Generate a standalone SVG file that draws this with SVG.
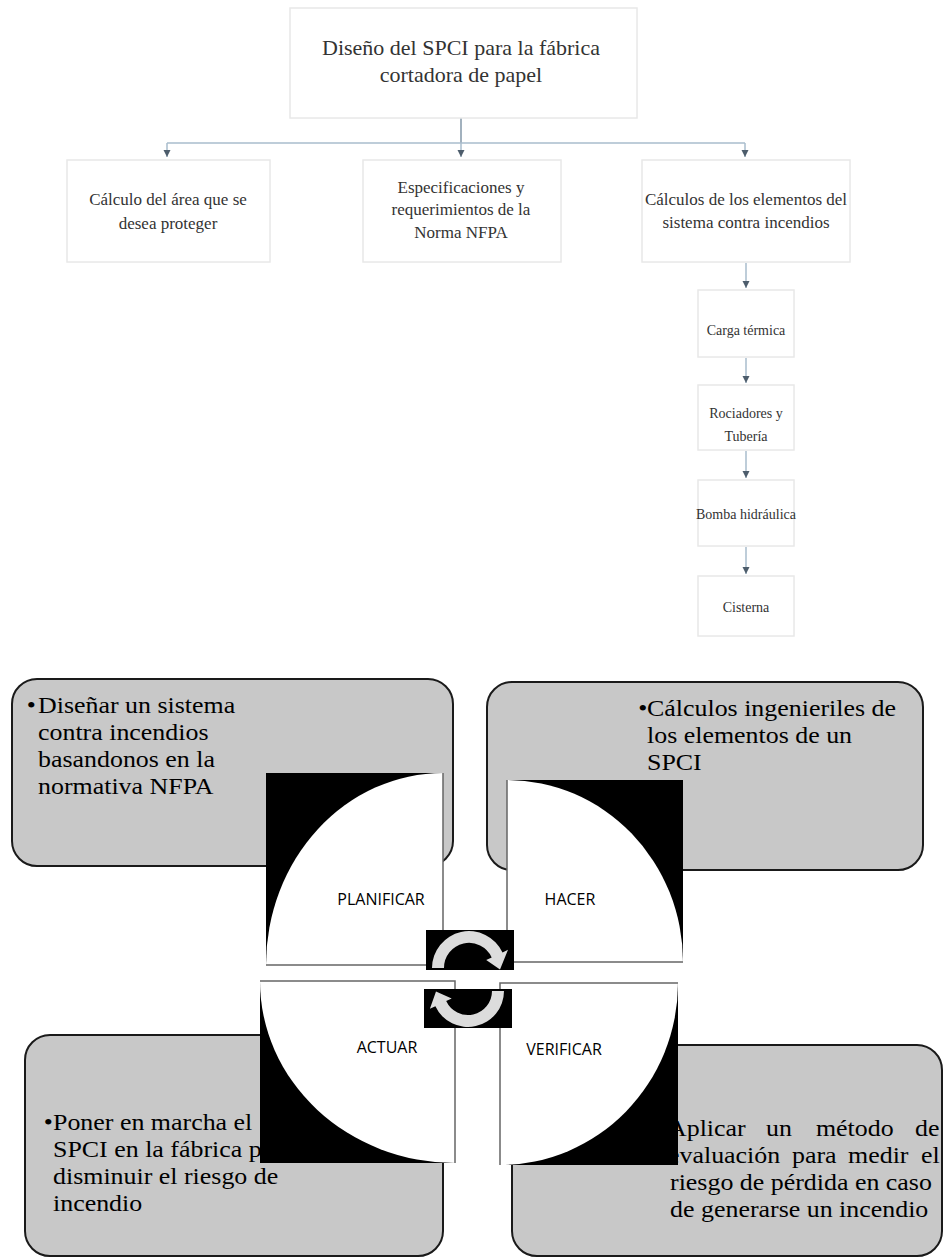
<svg xmlns="http://www.w3.org/2000/svg" width="945" height="1259" viewBox="0 0 945 1259">
<defs>
<marker id="ah" markerWidth="8" markerHeight="8" refX="7" refY="4" orient="auto" markerUnits="userSpaceOnUse">
<path d="M0,0.5 L7,4 L0,7.5 z" fill="#4d5d6c"/>
</marker>
<style>
.box{fill:#ffffff;stroke:#e8e8e8;stroke-width:1.5}
.t{font-family:"Liberation Serif",serif;fill:#333333;text-anchor:middle}
.conn{stroke:#a9bdcc;stroke-width:1.5;fill:none}
.rb{fill:#c8c8c8;stroke:#1a1a1a;stroke-width:2}
.bt{font-family:"Liberation Serif",serif;font-size:24px;fill:#000000}
.bg{fill:#000000}
.q{fill:#ffffff}
.qe{fill:none;stroke:#666666;stroke-width:1.5}
.ql{font-family:"Open Sans",sans-serif;font-size:16px;fill:#000000;text-anchor:middle}
.cyc{fill:#dcdcdc}
</style>
</defs>
<rect width="945" height="1259" fill="#ffffff"/>

<g id="connectors">
<path class="conn" d="M461,118 V143" style="stroke:#8397a9"/>
<path class="conn" d="M167,143 H745"/>
<path class="conn" d="M167,143 V157" marker-end="url(#ah)"/>
<path class="conn" d="M461,143 V157" marker-end="url(#ah)"/>
<path class="conn" d="M745,143 V157" marker-end="url(#ah)"/>
<path class="conn" d="M746,263 V288" marker-end="url(#ah)"/>
<path class="conn" d="M746,358 V383" marker-end="url(#ah)"/>
<path class="conn" d="M746,451 V478" marker-end="url(#ah)"/>
<path class="conn" d="M746,547 V574" marker-end="url(#ah)"/>
</g>

<g id="title">
<rect class="box" x="290" y="8" width="347" height="110"/>
<text class="t" font-size="22" x="461" y="55">Diseño del SPCI para la fábrica</text>
<text class="t" font-size="22" x="461" y="82">cortadora de papel</text>
</g>
<g id="n-area">
<rect class="box" x="67" y="160" width="203" height="102"/>
<text class="t" font-size="17" x="168" y="205">Cálculo del área que se</text>
<text class="t" font-size="17" x="168" y="229">desea proteger</text>
</g>
<g id="n-norma">
<rect class="box" x="363" y="160" width="198" height="102"/>
<text class="t" font-size="17" x="461" y="193">Especificaciones y</text>
<text class="t" font-size="17" x="461" y="215">requerimientos de la</text>
<text class="t" font-size="17" x="461" y="238">Norma NFPA</text>
</g>
<g id="n-calculos">
<rect class="box" x="642" y="160" width="208" height="102"/>
<text class="t" font-size="17" x="746" y="205">Cálculos de los elementos del</text>
<text class="t" font-size="17" x="746" y="228">sistema contra incendios</text>
</g>
<g id="n-carga">
<rect class="box" x="698" y="290" width="96" height="67"/>
<text class="t" font-size="14" x="746" y="335">Carga térmica</text>
</g>
<g id="n-rociadores">
<rect class="box" x="698" y="385" width="96" height="65"/>
<text class="t" font-size="14" x="746" y="418">Rociadores y</text>
<text class="t" font-size="14" x="746" y="441">Tubería</text>
</g>
<g id="n-bomba">
<rect class="box" x="698" y="480" width="96" height="66"/>
<text class="t" font-size="14" x="746" y="519">Bomba hidráulica</text>
</g>
<g id="n-cisterna">
<rect class="box" x="698" y="576" width="96" height="60"/>
<text class="t" font-size="14" x="746" y="612">Cisterna</text>
</g>

<g id="box-planificar">
<rect class="rb" x="12" y="679" width="441" height="187" rx="25"/>
<g transform="translate(38 0) scale(1.08 1)">
<text class="bt" x="-10.5" y="713">•<tspan x="0" y="713">Diseñar un sistema</tspan><tspan x="0" y="740">contra incendios</tspan><tspan x="0" y="767">basandonos en la</tspan><tspan x="0" y="794">normativa NFPA</tspan></text>
</g>
</g>
<g id="box-hacer">
<rect class="rb" x="487" y="682" width="436" height="188" rx="25"/>
<g transform="translate(647 0) scale(1.08 1)">
<text class="bt" x="-8" y="716">•<tspan x="0" y="716">Cálculos ingenieriles de</tspan><tspan x="0" y="743">los elementos de un</tspan><tspan x="0" y="770">SPCI</tspan></text>
</g>
</g>
<g id="box-actuar">
<rect class="rb" x="25" y="1035" width="418" height="221" rx="25"/>
<g transform="translate(53 0) scale(1.08 1)">
<text class="bt" x="-8.5" y="1130">•<tspan x="0" y="1130">Poner en marcha el</tspan><tspan x="0" y="1157">SPCI en la fábrica p</tspan><tspan x="0" y="1184">disminuir el riesgo de</tspan><tspan x="0" y="1211">incendio</tspan></text>
</g>
</g>
<g id="box-verificar">
<rect class="rb" x="512" y="1045" width="430" height="211" rx="25"/>
<g transform="translate(668 0) scale(1.08 1)">
<text class="bt" x="0" y="1136">Aplicar<tspan x="90.7" y="1136">un</tspan><tspan x="137" y="1136">método</tspan><tspan x="228.7" y="1136">de</tspan><tspan x="0" y="1163">evaluación</tspan><tspan x="114.8" y="1163">para</tspan><tspan x="166.7" y="1163">medir</tspan><tspan x="234.3" y="1163">el</tspan><tspan x="1.9" y="1190">riesgo de pérdida en caso</tspan><tspan x="1.9" y="1217">de generarse un incendio</tspan></text>
</g>
</g>

<g id="q-planificar">
<rect class="bg" x="266" y="773" width="177" height="192"/>
<path class="q" d="M443,965 L266,965 A177,192 0 0 1 443,773 Z"/>
<path class="qe" d="M266,965 L443,965 L443,773"/>
<text class="ql" x="381" y="905">PLANIFICAR</text>
</g>
<g id="q-hacer">
<rect class="bg" x="507" y="780" width="176" height="182"/>
<path class="q" d="M507,962 L507,780 A176,182 0 0 1 683,962 Z"/>
<path class="qe" d="M507,780 L507,962 L683,962"/>
<text class="ql" x="570" y="905">HACER</text>
</g>
<g id="q-actuar">
<rect class="bg" x="260" y="981" width="195" height="182"/>
<path class="q" d="M455,981 L455,1163 A195,182 0 0 1 260,981 Z"/>
<path class="qe" d="M260,981 L455,981 L455,1163"/>
<text class="ql" x="387" y="1053">ACTUAR</text>
</g>
<g id="q-verificar">
<rect class="bg" x="500" y="983" width="178" height="182"/>
<path class="q" d="M500,983 L678,983 A178,182 0 0 1 500,1165 Z"/>
<path class="qe" d="M678,983 L500,983 L500,1165"/>
<text class="ql" x="564" y="1055">VERIFICAR</text>
</g>

<g id="cycle-top">
<rect class="bg" x="426" y="930" width="88" height="40"/>
<path class="cyc" d="M432,968 A37,37 0 0 1 502.5,952.4 L508,949.8 L500,969.6 L486.2,960 L491.7,957.4 A25,25 0 0 0 444,968 Z"/>
</g>
<g id="cycle-bottom">
<rect class="bg" x="424" y="989" width="88" height="39"/>
<path class="cyc" d="M504,991 A36,36 0 0 1 435.4,1006.2 L429.9,1008.7 L436,991.5 L451.7,998.6 L446.2,1001.1 A24,24 0 0 0 492,991 Z"/>
</g>
</svg>
